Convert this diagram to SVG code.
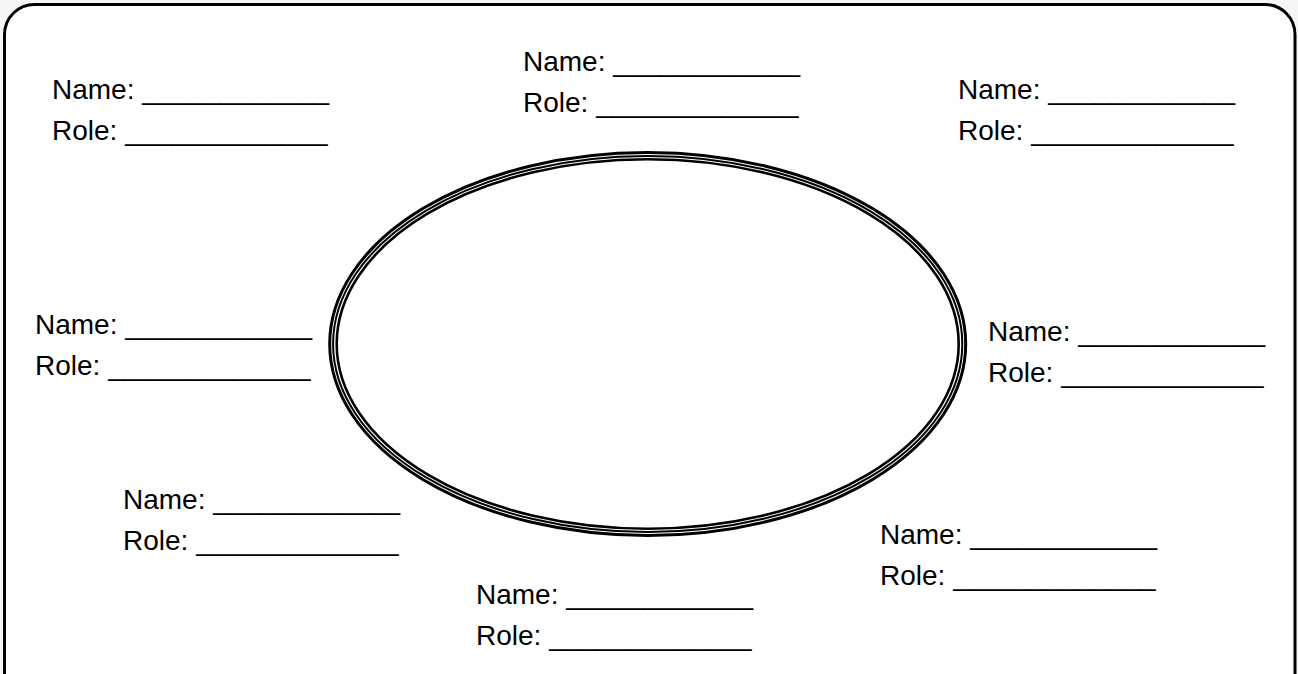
<svg xmlns="http://www.w3.org/2000/svg" width="1298" height="674" viewBox="0 0 1298 674">
  <style>
    .lbl { font-family: "Liberation Sans", Arial, sans-serif; font-size: 28px; fill: #000; }
    .ring { fill: none; stroke: #000; }
  </style>
  <rect x="0" y="0" width="1298" height="674" fill="#f5f5f5"/>
  <rect id="frame" x="4.5" y="4.5" width="1290.5" height="720" rx="30" ry="30" fill="#fff" stroke="#000" stroke-width="3"/>
  <g id="center-ellipse">
    <ellipse class="ring" cx="647.7" cy="344" rx="318" ry="191.5" stroke-width="3"/>
    <ellipse class="ring" cx="647.7" cy="344" rx="314.6" ry="188" stroke-width="2"/>
    <ellipse class="ring" cx="647.7" cy="344" rx="311" ry="184.7" stroke-width="2.6"/>
  </g>
  <g id="connectors"></g>
  <g id="p1"><text class="lbl" x="52" y="99">Name: ____________</text><text class="lbl" x="52" y="140">Role: _____________</text></g>
  <g id="p2"><text class="lbl" x="523" y="71">Name: ____________</text><text class="lbl" x="523" y="112">Role: _____________</text></g>
  <g id="p3"><text class="lbl" x="958" y="99">Name: ____________</text><text class="lbl" x="958" y="140">Role: _____________</text></g>
  <g id="p4"><text class="lbl" x="35" y="334">Name: ____________</text><text class="lbl" x="35" y="375">Role: _____________</text></g>
  <g id="p5"><text class="lbl" x="988" y="341">Name: ____________</text><text class="lbl" x="988" y="382">Role: _____________</text></g>
  <g id="p6"><text class="lbl" x="123" y="509">Name: ____________</text><text class="lbl" x="123" y="550">Role: _____________</text></g>
  <g id="p7"><text class="lbl" x="880" y="544">Name: ____________</text><text class="lbl" x="880" y="585">Role: _____________</text></g>
  <g id="p8"><text class="lbl" x="476" y="604">Name: ____________</text><text class="lbl" x="476" y="645">Role: _____________</text></g>
</svg>
